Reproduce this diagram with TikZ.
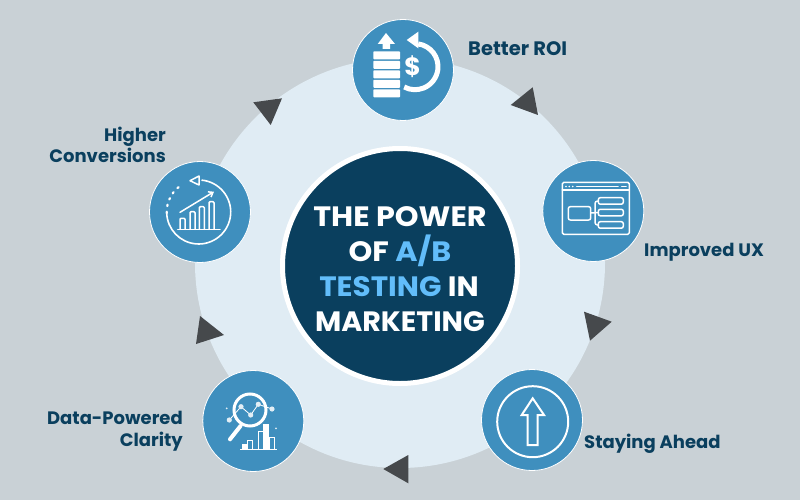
\documentclass[tikz,border=0pt]{standalone}
\usepackage{fontspec}
\setmainfont{Poppins}
\newfontfamily\TitleFont{Poppins}[FakeStretch=1.08]
\usetikzlibrary{arrows.meta}
\definecolor{bgGray}{HTML}{C9D1D6}
\definecolor{ringBlue}{HTML}{E0ECF4}
\definecolor{navy}{HTML}{0A3F5E}
\definecolor{iconBlue}{HTML}{3F8FBE}
\definecolor{skyText}{HTML}{62BDFA}
\definecolor{markGray}{HTML}{46494C}
\begin{document}
\begin{tikzpicture}[
x=1pt,y=-1pt,
IconDisc/.style={circle,fill=iconBlue,draw=white,line width=.8pt,minimum size=101pt,inner sep=0pt},
Marker/.style={fill=markGray,draw=none},
Caption/.style={text=navy,font=\fontsize{18}{21.5}\selectfont\bfseries,inner sep=0pt},
Title/.style={text=white,font=\TitleFont\fontsize{28}{30}\selectfont\bfseries,inner sep=0pt,anchor=base},
IconLine/.style={draw=white,line width=1.5pt,line cap=round,line join=round},
IconFill/.style={fill=white,draw=none}
]
\useasboundingbox (0,0) rectangle (800,500);
\fill[bgGray] (0,0) rectangle (800,500);
\fill[ringBlue] (400,263) circle[radius=205];

% centre
\node[circle,fill=navy,draw=white,line width=5pt,minimum size=235pt,inner sep=0pt] (hub) at (400,266) {};
\node[Title] (titleA) at (400,226) {THE POWER};
\node[Title] (titleB) at (400,261) {OF \textcolor{skyText}{A/B}};
\node[Title] (titleC) at (399,296) {\scalebox{.975}[1]{\textcolor{skyText}{TESTING} IN}};
\node[Title] (titleD) at (400,331) {\scalebox{.945}[1]{MARKETING}};

\node[IconDisc] (roi) at (403,70) {};
\node[IconDisc] (ux) at (593.3,211) {};
\node[IconDisc] (ahead) at (532,420) {};
\node[IconDisc] (clarity) at (253.3,421) {};
\node[IconDisc] (conv) at (200,212) {};

\node[Caption,anchor=west,font=\fontsize{19.5}{22}\selectfont\bfseries] (roiText) at (468,49) {Better ROI};
\node[Caption,anchor=west] (uxText) at (644,252) {Improved UX};
\node[Caption,anchor=west] (aheadText) at (584,444) {Staying Ahead};
\node[Caption,anchor=east,align=right] (clarityText) at (183,431) {Data-Powered\\Clarity};
\node[Caption,anchor=east,align=right] (convText) at (166,145) {Higher\\Conversions};

\fill[Marker] (510.7,105) -- (532.7,87.3) -- (538,115) -- cycle;
\fill[Marker] (584,311.7) -- (611.7,321.7) -- (590,340.7) -- cycle;
\fill[Marker] (383.3,469) -- (408.3,455) -- (408.3,483.3) -- cycle;
\fill[Marker] (196,344) -- (200,316) -- (224,335) -- cycle;
\fill[Marker] (253.3,102.3) -- (282,98.3) -- (270.7,125) -- cycle;

% roi
\fill[IconFill] (386,33) -- (395,44) -- (390,44) -- (390,49) -- (382.7,49) -- (382.7,44) -- (377.7,44) -- cycle;
\foreach \Ybar in {51.3,60.8,70.3,79.8,89.3}
  \fill[IconFill,rounded corners=.8pt] (373.3,\Ybar) rectangle (400,\Ybar+8);
\draw[white,line width=5pt] ([shift={(-82:23)}]415,66.7) arc[start angle=-82,end angle=118,radius=23];
\fill[IconFill] (406.7,40) -- (418.3,31.7) -- (418.3,48.3) -- cycle;
\node[text=white,font=\fontsize{25}{25}\selectfont\bfseries,inner sep=0pt] (dollar) at (412.7,67) {\$};

% ux
\draw[IconLine,rounded corners=1.5pt] (562.3,182.3) rectangle (629.3,234.3);
\draw[IconLine] (562.3,190) -- (629.3,190);
\foreach \Xdot in {566,569.3,572.7}
  \fill[IconFill] (\Xdot,186.5) circle[radius=.9];
\draw[IconLine] (576.7,186.5) -- (618,186.5);
\draw[IconLine] (621.7,186.5) -- (626,186.5);
\draw[IconLine,rounded corners=2pt] (568.3,206.7) rectangle (590.7,220);
\foreach \Ybox in {197.7,209.3,221.7}
  \draw[IconLine,rounded corners=2pt] (598.3,\Ybox) rectangle (623.3,\Ybox+6.5);
\draw[IconLine] (590.7,213) -- (598.3,212.5);
\draw[IconLine,rounded corners=2.5pt] (598.3,201) -- (595,201) -- (595,225) -- (598.3,225);

% conversions
\draw[white,line width=1.6pt] ([shift={(-85:32)}]198.7,212) arc[start angle=-85,end angle=178,radius=32];
\draw[white,line width=2.2pt,line cap=round,dash pattern=on 1.5pt off 5.5pt] ([shift={(178:32)}]198.7,212) arc[start angle=178,end angle=240,radius=32];
\draw[IconLine,fill=iconBlue] (190,180.7) -- (199,176) -- (199,185) -- cycle;
\foreach \Xbar/\Ytop in {180/218.3,190/211.7,199.3/206.7,209/201.7}
  \draw[IconLine,rounded corners=1pt] (\Xbar,229.3) -- (\Xbar,\Ytop) -- (\Xbar+5,\Ytop) -- (\Xbar+5,229.3);
\draw[IconLine] (177.7,229.3) -- (220,229.3);
\draw[IconLine,-{Straight Barb[length=4pt,width=6pt]}] (180,212.3) -- (214,191.7);

% clarity
\draw[white,line width=3pt] (250,410) circle[radius=16];
\draw[white,line width=4pt,line cap=round] (240.5,426) -- (230,439.3);
\draw[white,line width=.8pt] (229.3,420) -- (241,406.7) -- (250.7,415) -- (258.3,404.3) -- (272,409);
\foreach \Xdot/\Ydot in {229.3/420,241/406.7,250.7/415,258.3/404.3,272/409}
  \fill[white!85!iconBlue] (\Xdot,\Ydot) circle[radius=2.6];
\fill[white!85!iconBlue] (226.7,408.3) circle[radius=1];
\fill[white!85!iconBlue] (276,428.3) circle[radius=1];
\fill[IconFill] (242.3,444.3) rectangle (247.3,449.3);
\fill[IconFill] (263.3,424) rectangle (269,449.3);
\foreach \Xbar/\Ytop/\Xend in {247.3/440.7/252.7,258.3/431.7/263.3,269/437.3/274}
  \draw[white,line width=1pt] (\Xbar,449.3) -- (\Xbar,\Ytop) -- (\Xend,\Ytop) -- (\Xend,449.3);
\draw[white,line width=1pt] (240,449.3) -- (276.7,449.3);

% ahead
\draw[white,line width=2pt] (532.7,421.7) circle[radius=35.5];
\draw[white,line width=2pt,line join=miter] (532.7,398.3) -- (544,415) -- (537.7,415) -- (537.7,445) -- (527.7,445) -- (527.7,415) -- (521.7,415) -- cycle;
\end{tikzpicture}
\end{document}
